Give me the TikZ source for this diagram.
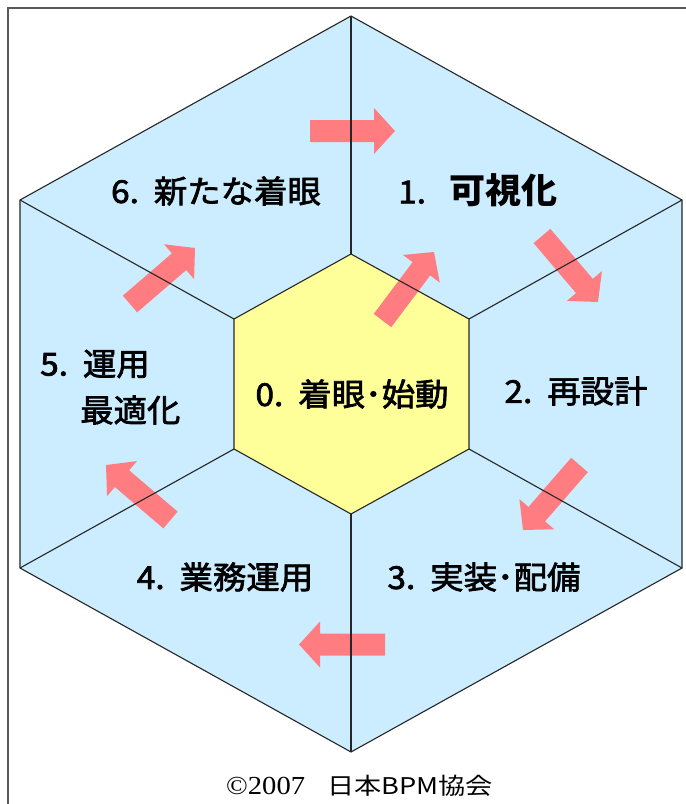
\documentclass[tikz,border=0pt]{standalone}
\usepackage{fontspec}
\newfontfamily\jp{Noto Sans CJK JP}
\newfontfamily\jpm[FakeBold=2.2, FakeStretch=1.06]{Noto Sans CJK JP}
\newfontfamily\jpbb[FakeStretch=1.03]{Noto Sans CJK JP}
\newfontfamily\jpw[FakeStretch=1.18]{Noto Sans CJK JP}
\newfontfamily\tms[FakeStretch=1.1]{Liberation Serif}
\usetikzlibrary{calc}
\definecolor{facec}{HTML}{CCECFF}
\definecolor{corec}{HTML}{FFFF99}
\definecolor{arrc}{HTML}{FF7C80}
\definecolor{framec}{HTML}{5A5A5A}
\newcommand\blkarrow[2]{%
  \coordinate (hb) at ($(#2)!21pt!(#1)$);
  \fill[arrc] ($(#1)!11pt!90:(#2)$) -- ($(hb)!11pt!-90:(#1)$) -- ($(hb)!23pt!-90:(#1)$) -- (#2)
     -- ($(hb)!23pt!90:(#1)$) -- ($(hb)!11pt!90:(#1)$) -- ($(#1)!11pt!-90:(#2)$) -- cycle;
}
\tikzset{
  facefill/.style={fill=facec},
  edge/.style={draw=black!85, line width=1.1pt, line join=miter},
  lbl/.style={font=\jpm\fontsize{31.5}{38}\selectfont, inner sep=0pt},
}
\begin{document}
\begin{tikzpicture}[x=1pt,y=-1pt]
\useasboundingbox (0,0) rectangle (686,804);
\fill[white] (0,0) rectangle (686,804);
% frame
\draw[framec, line width=1.4pt] (686,8) -- (8,8) -- (8,804);
% outer vertices
\coordinate (T) at (351,16);
\coordinate (UR) at (682,200);
\coordinate (LR) at (682,568);
\coordinate (B) at (351,752);
\coordinate (LL) at (20,568);
\coordinate (UL) at (20,200);
% inner vertices
\coordinate (t) at (351,254);
\coordinate (ur) at (469,319);
\coordinate (lr) at (469,449);
\coordinate (b) at (351,514);
\coordinate (ll) at (234,449);
\coordinate (ul) at (234,319);
% fills
\fill[facefill] (T) -- (UR) -- (LR) -- (B) -- (LL) -- (UL) -- cycle;
\fill[corec] (t) -- (ur) -- (lr) -- (b) -- (ll) -- (ul) -- cycle;
% arrows
\coordinate (a1s) at (310,131);   \coordinate (a1e) at (395,131);
\coordinate (a2s) at (542,236);   \coordinate (a2e) at (598,302);
\coordinate (a3s) at (579.5,465); \coordinate (a3e) at (523,530);
\coordinate (a4s) at (385,644.5); \coordinate (a4e) at (299,644.5);
\coordinate (a5s) at (170.5,520); \coordinate (a5e) at (106,465);
\coordinate (a6s) at (130,304);   \coordinate (a6e) at (195,248);
\coordinate (a0s) at (382.5,320.5); \coordinate (a0e) at (434,252);
\blkarrow{a1s}{a1e}
\blkarrow{a2s}{a2e}
\blkarrow{a3s}{a3e}
\blkarrow{a4s}{a4e}
\blkarrow{a5s}{a5e}
\blkarrow{a6s}{a6e}
\blkarrow{a0s}{a0e}
% outlines
\draw[edge] (T) -- (UR) -- (LR) -- (B) -- (LL) -- (UL) -- cycle;
\draw[edge] (t) -- (ur) -- (lr) -- (b) -- (ll) -- (ul) -- cycle;
\draw[edge] (T) -- (t);
\draw[edge] (UR) -- (ur);
\draw[edge] (LR) -- (lr);
\draw[edge] (B) -- (b);
\draw[edge] (LL) -- (ll);
\draw[edge] (UL) -- (ul);
% labels
\node[lbl] (n6) at (216,191) {6.\ \ 新たな着眼};
\node[lbl, anchor=west] (n1) at (398,190) {1.\hspace{0.75em}{\jpbb\bfseries\fontsize{35}{40}\selectfont 可視化}};
\node[lbl] (n0) at (352,394) {0.\ \ 着眼･始動};
\node[lbl] (n2) at (576,391) {2.\ \ 再設計};
\node[lbl] (n3) at (484,577) {3.\ \ 実装･配備};
\node[lbl] (n4) at (225,577) {4.\ \ 業務運用};
\node[lbl, anchor=west] (n5a) at (40,364) {5.\ \ 運用};
\node[lbl, anchor=west] (n5b) at (80,410) {最適化};
\node[inner sep=0pt, anchor=west] (cr) at (226,786) {{\tms\fontsize{26}{30}\selectfont ©2007}\hspace{22pt}{\jpw\fontsize{23}{28}\selectfont 日本BPM協会}};
\end{tikzpicture}
\end{document}
